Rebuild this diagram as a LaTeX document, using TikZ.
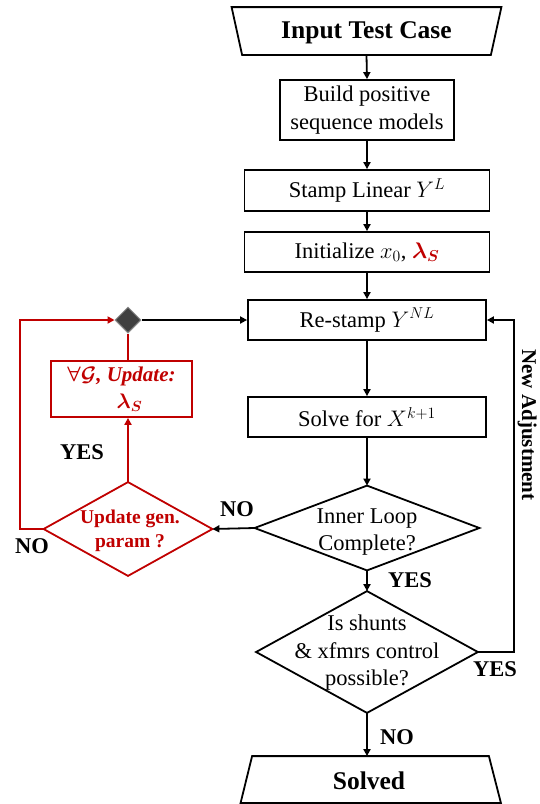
\RequirePackage{fix-cm}
\documentclass[tikz,border=0pt]{standalone}
\usepackage{fontspec}
\setmainfont{Liberation Serif}
\usepackage{bm}
\usetikzlibrary{shapes.geometric,arrows.meta,calc}
\definecolor{dred}{HTML}{C00000}
\definecolor{dgray}{HTML}{404040}
\definecolor{mgray}{HTML}{8C8C8C}
\begin{document}
\begin{tikzpicture}[x=1pt,y=-1pt,line width=1.8pt,
  arr/.style={-{Triangle[length=7pt,width=7pt]}},
  boxn/.style={draw,rectangle,align=center,inner sep=0pt,font=\fontsize{22.5}{28}\selectfont},
  shp/.style={rectangle,inner sep=0pt},
  txt/.style={align=center,inner sep=0pt,font=\fontsize{22.5}{27.5}\selectfont},
  ttl/.style={align=center,inner sep=0pt,font=\fontsize{25.5}{30}\selectfont\bfseries},
  lbl/.style={inner sep=0pt,font=\fontsize{22.5}{27}\selectfont\bfseries},
  rtxt/.style={align=center,inner sep=0pt,text=dred,font=\fontsize{19.5}{24}\selectfont\bfseries}]
\useasboundingbox (0,0) rectangle (540,804);

% top terminator
\node[shp,minimum width=247pt,minimum height=46pt] (in) at (366.5,31) {};
\draw ($(in.north west)+(-10.5,0)$) -- ($(in.north east)+(10.5,0)$) -- (in.south east) -- (in.south west) -- cycle;
\node[ttl] (intxt) at (366.5,33) {Input Test Case};

% process boxes
\node[boxn,minimum width=174pt,minimum height=60pt] (build) at (367,110) {Build positive\\sequence models};
\node[boxn,minimum width=245pt,minimum height=41pt] (stamp) at (367,190.5) {Stamp Linear $Y^{L}$};
\node[boxn,minimum width=245pt,minimum height=40pt] (init) at (367,252) {Initialize $x_0$, \textcolor{dred}{$\bm{\lambda_{S}}$}};
\node[boxn,minimum width=238pt,minimum height=40pt] (restamp) at (367,320) {Re-stamp $Y^{NL}$};
\node[boxn,minimum width=238pt,minimum height=40pt] (solve) at (367,417) {Solve for $X^{k+1}$};

% decisions
\node[shp,minimum width=223pt,minimum height=83pt] (inner) at (367,528) {};
\draw (inner.north) -- (inner.east) -- (inner.south) -- (inner.west) -- cycle;
\node[txt] (innertxt) at (367,532) {Inner Loop\\Complete?};
\node[shp,minimum width=220pt,minimum height=120pt] (shunts) at (367,652) {};
\draw (shunts.north) -- (shunts.east) -- (shunts.south) -- (shunts.west) -- cycle;
\node[txt] (shuntstxt) at (367,653) {Is shunts\\\& xfmrs control\\possible?};

% bottom terminator
\node[shp,minimum width=235pt,minimum height=45pt] (solved) at (370.5,779.5) {};
\draw (solved.north west) -- (solved.north east) -- ($(solved.south east)+(12,0)$) -- ($(solved.south west)+(-11.5,0)$) -- cycle;
\node[ttl] (solvedtxt) at (369,781) {Solved};

% red branch
\node[shp,minimum width=167pt,minimum height=92pt] (upd) at (128,529) {};
\draw[dred] (upd.north) -- (upd.east) -- (upd.south) -- (upd.west) -- cycle;
\node[rtxt] (updtxt) at (130,531) {Update gen.\\param ?};
\node[draw=dred,rectangle,minimum width=141pt,minimum height=56pt,inner sep=0pt,align=center,text=dred,
  font=\fontsize{21}{27}\selectfont\bfseries\itshape] (ubox) at (121.5,389) {$\bm{\forall\mathcal{G}}$, Update:\\\hspace*{16pt}$\bm{\lambda_{S}}$};
\node[diamond,fill=dgray,draw=mgray,line width=1pt,minimum width=26pt,minimum height=26pt,inner sep=0pt] (sd) at (128,320) {};
\coordinate (lc) at (20,320);
\coordinate (rc) at (514,320);

% connectors
\draw[arr] (in.south) -- (build.north);
\draw[arr] (build.south) -- (stamp.north);
\draw[arr] (stamp.south) -- (init.north);
\draw[arr] (init.south) -- (restamp.north);
\draw[arr] (restamp.south) -- (solve.north);
\draw[arr] (solve.south) -- (inner.north);
\draw[arr] (inner.south) -- (shunts.north);
\draw[arr] (shunts.south) -- (shunts.south |- solved.north);
\draw[arr] (shunts.east) -| (rc) -- (restamp.east);
\draw[arr] (inner.west) -- (upd.east);
\draw[arr,dred] (upd.north) -- (upd.north |- ubox.south);
\draw[dred] (ubox.north -| sd.south) -- (sd.south);
\draw[arr,dred] (upd.west) -| (lc) -- (sd.west);
\draw[arr] (sd.east) -- (restamp.west);

% labels
\node[lbl] (l1) at (410,580) {YES};
\node[lbl] (l2) at (397,737) {NO};
\node[lbl] (l3) at (495,669) {YES};
\node[lbl] (l4) at (237,509) {NO};
\node[lbl] (l5) at (82,452) {YES};
\node[lbl] (l6) at (32,546) {NO};
\node[lbl,rotate=-90,anchor=north,font=\fontsize{21}{26}\selectfont\bfseries] (na) at (537.5,425) {New Adjustment};
\end{tikzpicture}
\end{document}
